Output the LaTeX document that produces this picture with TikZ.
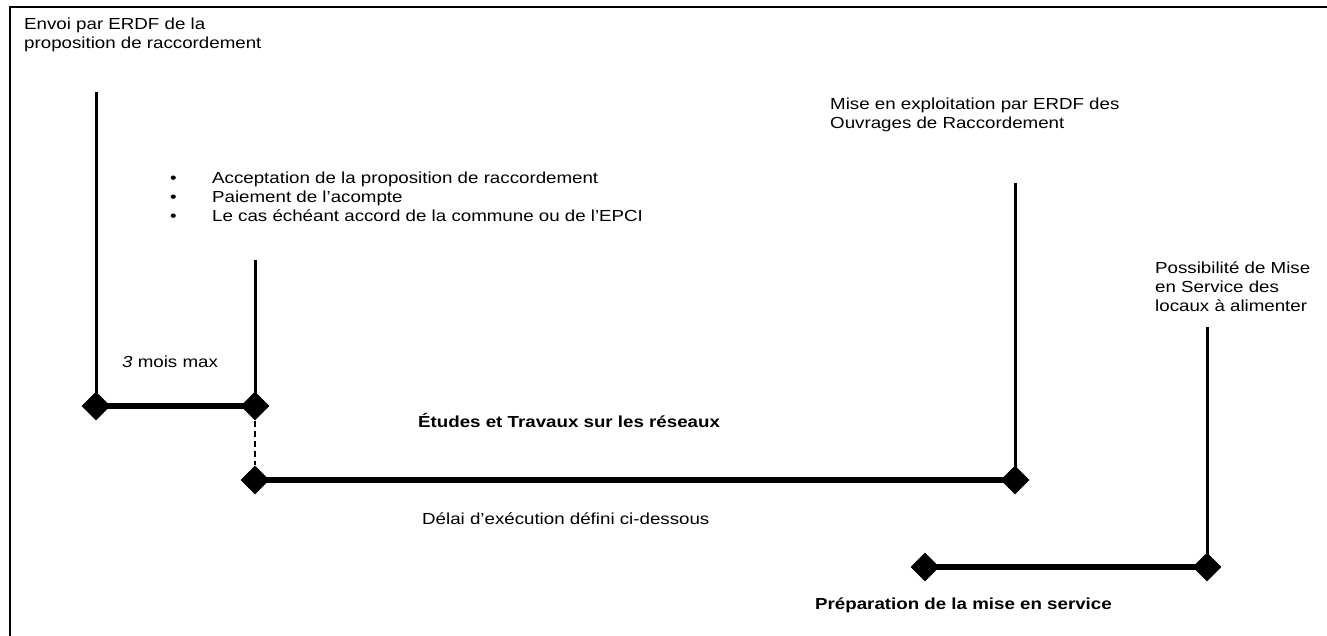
\documentclass[tikz,border=0pt]{standalone}
\usepackage{fontspec}
\setmainfont[FakeStretch=1.17]{Liberation Sans}
\usetikzlibrary{shapes.geometric}
\begin{document}
\begin{tikzpicture}[x=1pt,y=-1pt,
  lbl/.style={anchor=base west,inner sep=0pt,font=\fontsize{16}{18.7}\selectfont,align=left},
  blbl/.style={lbl,font=\fontsize{16}{18.5}\selectfont\bfseries},
  dia/.style={diamond,fill=black,inner sep=0pt,minimum size=29pt},
  tick/.style={line width=3pt},
  bar/.style={line width=6.5pt},
  frame/.style={line width=2.5pt}]
\useasboundingbox (0,0) rectangle (1327,636);
\draw[frame] (10,636) -- (10,7) -- (1327,7);
% texts
\node[lbl,anchor=north west] (t1) at (24,18) {Envoi par ERDF de la\\proposition de raccordement};
\node[lbl,anchor=north west] (t2) at (830,98) {Mise en exploitation par ERDF des\\Ouvrages de Raccordement};
\node[lbl,anchor=north west] (t3) at (1155,262) {Possibilité de Mise\\en Service des\\locaux à alimenter};
\node[lbl,anchor=north west] (t4) at (170,172) {\makebox[42pt][l]{\textbullet}Acceptation de la proposition de raccordement\\\makebox[42pt][l]{\textbullet}Paiement de l’acompte\\\makebox[42pt][l]{\textbullet}Le cas échéant accord de la commune ou de l’EPCI};
\node[lbl] (t5) at (122,367) {\textit{3} mois max};
\node[blbl] (t6) at (418,427) {Études et Travaux sur les réseaux};
\node[lbl] (t7) at (422,524) {Délai d’exécution défini ci-dessous};
\node[blbl] (t8) at (815,609) {Préparation de la mise en service};
% diamonds
\node[dia] (d1) at (96,406) {};
\node[dia] (d2) at (255,406) {};
\node[dia] (d3) at (255,480) {};
\node[dia] (d4) at (1015,480) {};
\node[dia] (d5) at (925,567) {};
\node[dia] (d6) at (1207,567) {};
\coordinate (v1) at (96,92);
\coordinate (v2) at (255,260);
\coordinate (v4) at (1015,183);
\coordinate (v6) at (1207,327);
\draw[tick] (v1) -- (d1.center);
\draw[tick] (v2) -- (d2.center);
\draw[tick] (v4) -- (d4.center);
\draw[tick] (v6) -- (d6.center);
\draw[bar] (d1.center) -- (d2.center);
\draw[bar] (d3.center) -- (d4.center);
\draw[bar] (d5.center) -- (d6.center);
\draw[line width=1.5pt,dash pattern=on 6pt off 4pt] (d2) -- (d3);
\end{tikzpicture}
\end{document}
